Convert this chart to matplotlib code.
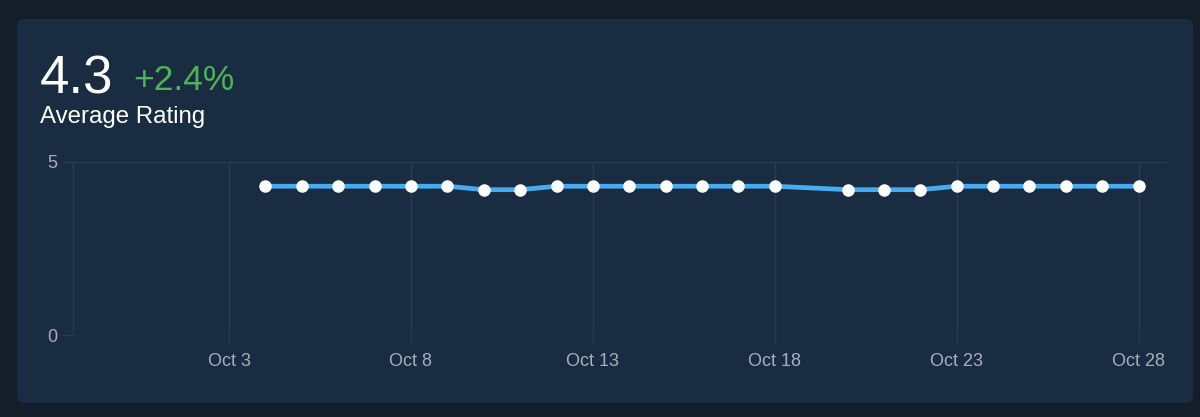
import datetime as dt
import matplotlib
matplotlib.use("Agg")
import matplotlib.pyplot as plt
import matplotlib.dates as mdates
from matplotlib.patches import FancyBboxPatch

# ---- data ----
days = [4, 5, 6, 7, 8, 9, 10, 11, 12, 13, 14, 15, 16, 17, 18,
        20, 21, 22, 23, 24, 25, 26, 27, 28]
ratings = [4.3, 4.3, 4.3, 4.3, 4.3, 4.3, 4.2, 4.2, 4.3, 4.3, 4.3, 4.3, 4.3, 4.3, 4.3,
           4.2, 4.2, 4.2, 4.3, 4.3, 4.3, 4.3, 4.3, 4.3]
tick_days = [3, 8, 13, 18, 23, 28]
tick_labels = ["Oct 3", "Oct 8", "Oct 13", "Oct 18", "Oct 23", "Oct 28"]
y_ticks = [0, 5]
headline_value = "4.3"
headline_change = "+2.4%"
headline_label = "Average Rating"

YEAR = 2024
dates = [dt.datetime(YEAR, 10, d) for d in days]
tick_dates = [dt.datetime(YEAR, 10, d) for d in tick_days]

# ---- style ----
OUTER = "#131e2a"
CARD = "#192c41"
GRID = "#283b50"
TICK = "#a6b0bc"
LINE = "#47abf2"
GREEN = "#4fb356"
FONT = ["Liberation Sans", "DejaVu Sans"]
plt.rcParams["font.family"] = FONT

W, H = 1200, 417
fig = plt.figure(figsize=(W / 100, H / 100), dpi=100, facecolor=OUTER)

# card
card = FancyBboxPatch((17 / W, 1 - 403 / H), (1193 - 17) / W, (403 - 19) / H,
                      boxstyle="round,pad=0,rounding_size=0.006",
                      transform=fig.transFigure, facecolor=CARD, edgecolor="none",
                      mutation_aspect=W / H, zorder=-10)
fig.patches.append(card)

# header texts
fig.text(40 / W, 1 - 94 / H, headline_value, color="white", fontsize=38,
         ha="left", va="baseline")
fig.text(133 / W, 1 - 90 / H, headline_change, color=GREEN, fontsize=25.5,
         ha="left", va="baseline")
fig.text(40 / W, 1 - 123 / H, headline_label, color="white", fontsize=17.3,
         ha="left", va="baseline")

# axes
left, right, top, bottom = 73, 1167, 162, 335
ax = fig.add_axes([left / W, 1 - bottom / H, (right - left) / W, (bottom - top) / H])
ax.set_facecolor("none")
ax.set_zorder(1)

ax.plot(dates, ratings, color=LINE, linewidth=3.4, solid_joinstyle="round",
        zorder=3, clip_on=False)
ax.plot(dates, ratings, linestyle="none", marker="o", markersize=8,
        markerfacecolor="white", markeredgecolor="white", zorder=4, clip_on=False)

x0 = mdates.date2num(dt.datetime(YEAR, 10, 3)) - 4.29
x1 = mdates.date2num(dt.datetime(YEAR, 10, 28)) + 0.78
ax.set_xlim(x0, x1)
ax.set_ylim(0, 5)

ax.set_xticks(tick_dates)
ax.set_xticklabels(tick_labels)
ax.set_yticks(y_ticks)
ax.set_yticklabels([str(v) for v in y_ticks])

ax.grid(True, color=GRID, linewidth=1)
ax.set_axisbelow(True)
for s in ["top", "right", "bottom"]:
    ax.spines[s].set_visible(False)
ax.spines["left"].set_color(GRID)
ax.spines["left"].set_linewidth(1)

ax.tick_params(axis="x", direction="out", length=6, width=1, color=GRID,
               labelcolor=TICK, labelsize=13, pad=7)
ax.tick_params(axis="y", direction="out", length=8, width=1, color=GRID,
               labelcolor=TICK, labelsize=13, pad=3)

fig.savefig("out.png", dpi=100, facecolor=OUTER)
